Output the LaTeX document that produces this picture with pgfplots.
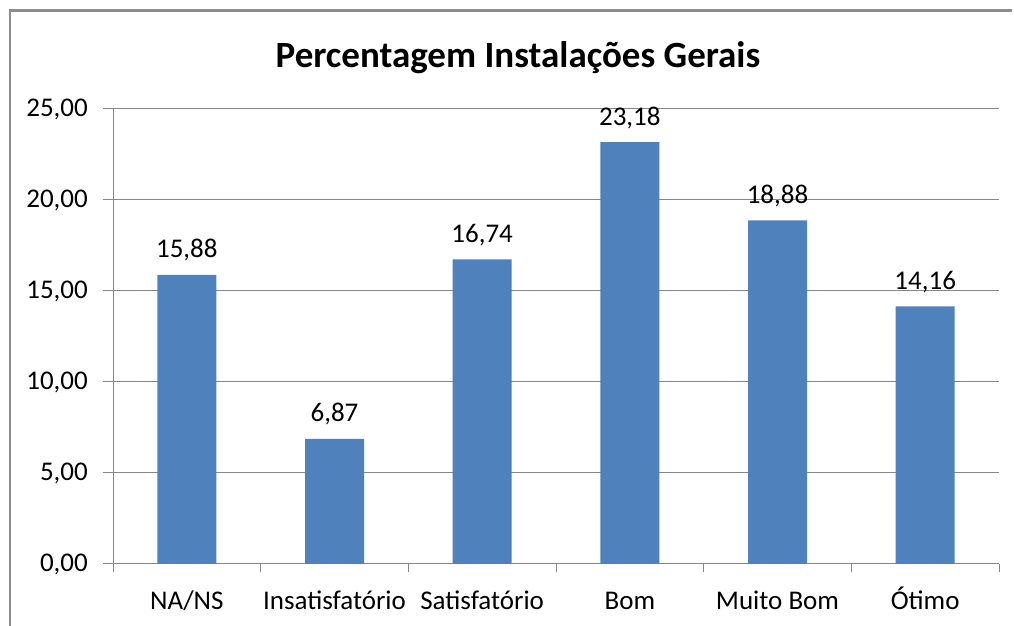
\documentclass[border=0pt]{standalone}
\usepackage{pgfplots}
\pgfplotsset{compat=1.18}
\usepackage{fontspec}
\setmainfont{Carlito}
\definecolor{barblue}{HTML}{4F81BD}
\definecolor{axgray}{HTML}{868686}
\definecolor{framegray}{HTML}{8C8C8C}
\begin{document}
\begin{tikzpicture}[x=1pt,y=1pt]
\path[use as bounding box] (0,0) rectangle (1014,626);
\fill[framegray] (8.75,0) rectangle (11.25,616.75);
\fill[framegray] (8.75,614.25) rectangle (1012,616.75);
\node[font=\fontsize{37}{42}\selectfont\bfseries, anchor=base] at (518,558) {Percentagem Instalações Gerais};
\begin{axis}[
  at={(113pt,62pt)}, anchor=south west,
  scale only axis, width=886pt, height=455pt,
  xmin=-0.5, xmax=5.5, ymin=0, ymax=25,
  axis x line=bottom, axis y line=left,
  axis line style={axgray, line width=1pt, -},
  ytick={0,5,...,25},
  ymajorgrids, grid style={axgray, line width=1pt},
  xtick={0,...,5},
  xticklabels={NA/NS, Insatisfatório, Satisfatório, Bom, Muito Bom, Ótimo},
  minor xtick={-0.5,0.5,...,5.5},
  tick align=outside,
  major tick length=10pt, minor tick length=8pt,
  xtick style={draw=none},
  minor x tick style={draw=axgray, line width=1pt},
  ytick style={draw=axgray, line width=1pt},
  /pgf/number format/.cd, use comma, fixed, fixed zerofill, precision=2, assume math mode=true,
  /pgfplots/.cd,
  yticklabel style={font=\fontsize{27}{30}\selectfont, anchor=east, inner sep=0pt, xshift=-15pt},
  xticklabel style={font=\fontsize{27}{30}\selectfont, anchor=base, inner sep=0pt, yshift=-35pt},
  ybar, bar width=59pt,
  nodes near coords,
  nodes near coords style={font=\fontsize{27}{30}\selectfont, anchor=base, inner sep=0pt, yshift=17pt},
]
\addplot[fill=barblue, draw=none] coordinates {(0,15.88) (1,6.87) (2,16.74) (3,23.18) (4,18.88) (5,14.16)};
\end{axis}
\end{tikzpicture}
\end{document}
